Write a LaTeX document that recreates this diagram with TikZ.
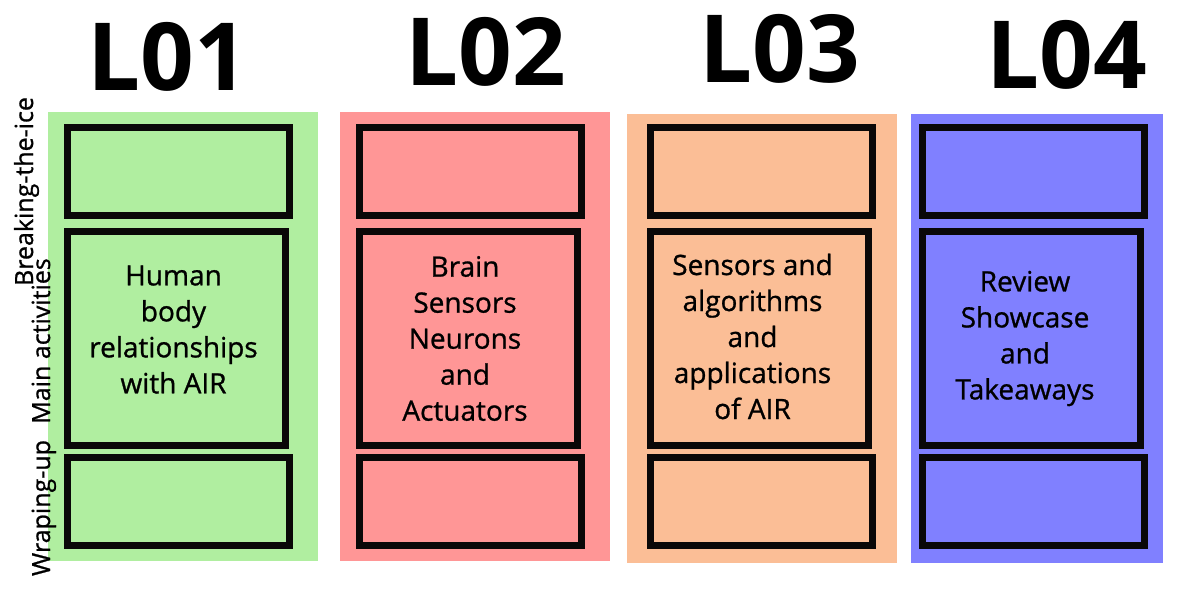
\documentclass[tikz,border=0pt]{standalone}
\usepackage{fontspec}
\setmainfont{Open Sans}
\newfontfamily\boxfont{Open Sans}[FakeBold=0.9]
\usetikzlibrary{positioning}
\definecolor{lzgreen}{RGB}{176,238,160}
\definecolor{lzred}{RGB}{255,150,150}
\definecolor{lzorange}{RGB}{251,190,150}
\definecolor{lzblue}{RGB}{128,128,255}
\definecolor{lzink}{RGB}{10,8,8}
\tikzset{
    every picture/.style={x=0.5pt,y=-0.5pt},
    lesson/.style={font=\fontsize{47}{47}\selectfont\bfseries, anchor=base, inner sep=0},
    phase/.style={rotate=90, anchor=base, inner sep=0, font=\boxfont\fontsize{12.5}{12.5}\selectfont},
}
\begin{document}
\begin{tikzpicture}[column/.style={minimum width=135pt, minimum height=224.5pt,
                                  inner sep=0, draw=none},
                    slot/.style={draw=lzink, line width=3.5pt,
                                 minimum width=111pt, minimum height=44pt, inner sep=0},
                    core/.style={draw=lzink, line width=3.5pt,
                                 minimum width=109pt, minimum height=107pt, inner sep=0},
                    topic/.style={align=center, inner sep=0,
                                  font=\boxfont\fontsize{14}{18}\selectfont}]
    \useasboundingbox (0,0) rectangle (1200,600);
    % lessons
    \node[column, fill=lzgreen] (col1) at (183,336.5) {};
    \node[column, fill=lzred] (col2) at (475,336.5) {};
    \node[column, fill=lzorange] (col3) at (762,338.5) {};
    \node[column, fill=lzblue, minimum width=126pt] (col4) at (1037,338.5) {};
    \node[lesson] (l1) at (168,90) {L01};
    \node[lesson] (l2) at (486,85) {L02};
    \node[lesson] (l3) at (780,82) {L03};
    \node[lesson] (l4) at (1067,88) {L04};
    % phases
    \node[phase] (ice) at (33,191.5) {Breaking-the-ice};
    \node[phase] (act) at (50,341) {Main activities};
    \node[phase] (wrap) at (50,508) {Wraping-up};
    % boxes
    \node[slot] (ice1) at (178.5,171.5) {};
    \node[core] (main1) at (176.5,338.5) {};
    \node[slot] (wrap1) at (178.5,501.5) {};
    \node[slot] (ice2) at (470,171.5) {};
    \node[core] (main2) at (468,338.5) {};
    \node[slot] (wrap2) at (470,501.5) {};
    \node[slot] (ice3) at (761.5,171.5) {};
    \node[core] (main3) at (759.5,338.5) {};
    \node[slot] (wrap3) at (761.5,501.5) {};
    \node[slot] (ice4) at (1033,171.5) {};
    \node[core] (main4) at (1031,338.5) {};
    \node[slot] (wrap4) at (1033,501.5) {};
    % topics
    \node[topic] (t1) at ([xshift=-1.5pt,yshift=4.5pt]main1.center) {Human\\body\\relationships\\with AIR};
    \node[topic] (t2) at ([xshift=-1.5pt]main2.center) {Brain\\Sensors\\Neurons\\and\\Actuators};
    \node[topic] (t3) at ([xshift=-3.5pt,yshift=1pt]main3.center) {Sensors and\\algorithms\\and\\applications\\of AIR};
    \node[topic] (t4) at ([xshift=-3pt]main4.center) {Review\\Showcase\\and\\Takeaways};
\end{tikzpicture}
\end{document}
